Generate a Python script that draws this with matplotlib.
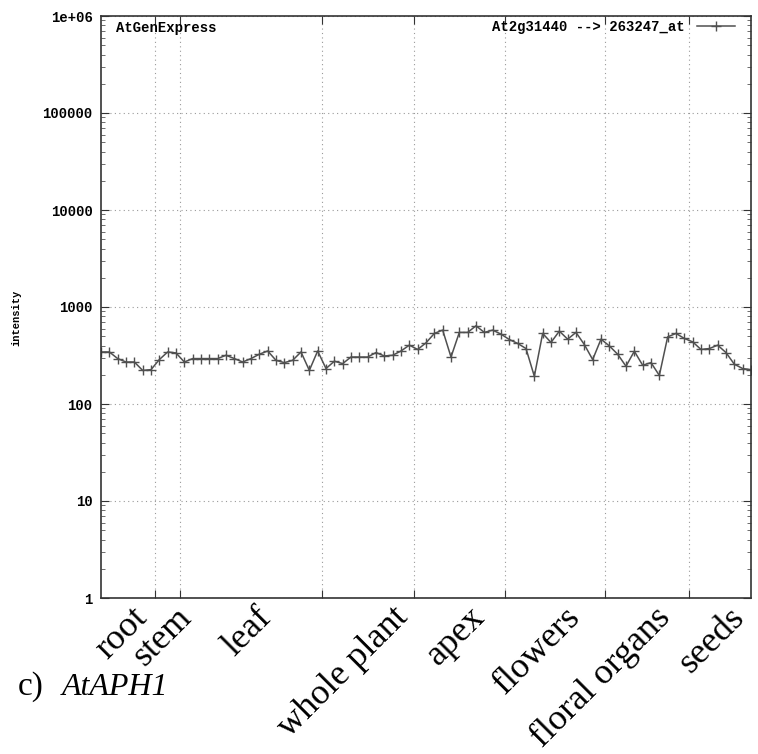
import numpy as np
import matplotlib.pyplot as plt
from matplotlib.ticker import LogLocator, NullFormatter, FixedLocator

# expression intensity for the 79 AtGenExpress developmental samples
intensity = [344, 344, 294, 271, 271, 222, 226, 287, 344, 336,
             271, 294, 294, 294, 294, 318, 294, 271, 294, 326,
             352, 282, 267, 282, 344, 222, 352, 232, 276, 261,
             305, 305, 305, 339, 313, 318, 352, 404, 365, 427,
             534, 578, 305, 547, 547, 640, 547, 578, 525, 462,
             421, 373, 193, 534, 431, 564, 466, 547, 410, 287,
             466, 397, 326, 245, 350, 251, 267, 197, 492, 534,
             474, 437, 365, 373, 404, 339, 257, 232, 226]

# tissue groups: label, last sample index of the group
tissues = ["root", "stem", "leaf", "whole plant", "apex", "flowers", "floral organs", "seeds"]
group_end = [6, 9, 26, 37, 48, 60, 70, 78]

ytick_vals = [1, 10, 100, 1000, 10000, 100000, 1000000]
ytick_text = ["1", "10", "100", "1000", "10000", "100000", "1e+06"]

mono = {"family": "Liberation Mono", "weight": "bold", "size": 10}
serif = "Liberation Serif"

fig = plt.figure(figsize=(7.58, 7.54), dpi=100)
ax = fig.add_axes([101 / 758, 1 - 598 / 754, 650 / 758, 582 / 754])

x = np.arange(len(intensity))
ax.plot(x, intensity, color="#505050", lw=1.1, marker="+", ms=7, mew=1.0,
        label="At2g31440 --> 263247_at")

ax.set_yscale("log")
ax.set_ylim(1, 1e6)
ax.set_xlim(0, len(intensity) - 1)

# boundaries between tissue groups
bounds = [e + 0.5 for e in group_end[:-1]]
ax.xaxis.set_major_locator(FixedLocator(bounds))
ax.set_xticklabels([])
ax.set_yticks(ytick_vals)
ax.set_yticklabels(ytick_text, fontdict=mono)
ax.yaxis.set_minor_locator(LogLocator(base=10, subs=np.arange(2, 10)))
ax.yaxis.set_minor_formatter(NullFormatter())
ax.tick_params(axis="both", which="major", direction="in", length=6, width=0.8,
               top=True, right=True, color="#333333", pad=6)
ax.tick_params(axis="y", which="minor", direction="in", length=3, width=0.6,
               right=True, color="#555555")

ax.grid(True, which="major", color="#9a9a9a", lw=0.8, linestyle=(0, (1, 3)))
for s in ax.spines.values():
    s.set_color("#333333")
    s.set_linewidth(1.2)

ax.set_ylabel("intensity", fontdict={"family": "Liberation Mono", "weight": "bold", "size": 7.5})
ax.yaxis.set_label_coords(-0.123, 0.481)

ax.text(0.023, 0.979, "AtGenExpress", transform=ax.transAxes, ha="left", va="center", **mono)
ax.legend(loc="upper right", frameon=False, markerfirst=False, handlelength=2.75,
          handletextpad=0.85, prop=mono, bbox_to_anchor=(0.984, 1.003), borderaxespad=0)

# tissue names under the axis, rotated
label_x = [131, 175, 255, 392, 468, 564, 654, 728]
for name, lx in zip(tissues, label_x):
    fig.text(lx / 758, 1 - 601 / 754, name, rotation=45, rotation_mode="anchor",
             ha="right", va="top", family=serif, size=26)

fig.text(18 / 758, 1 - 695 / 754, "c)", family=serif, size=24, ha="left", va="baseline")
fig.text(62 / 758, 1 - 695 / 754, "AtAPH1", family=serif, style="italic", size=23,
         ha="left", va="baseline")

fig.savefig("out.png", dpi=100)
